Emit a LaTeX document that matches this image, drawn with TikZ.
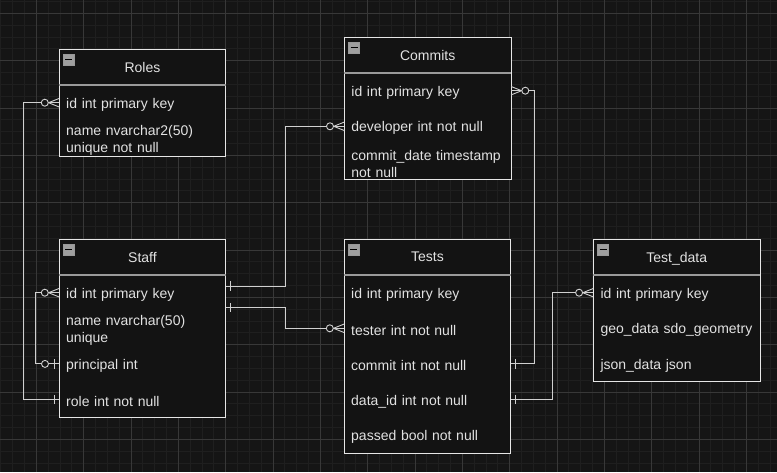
\documentclass[tikz,border=0pt]{standalone}
\usepackage{fontspec}
\setmainfont{Liberation Sans}

\definecolor{bgc}{HTML}{151515}
\definecolor{minorc}{HTML}{1F1F1F}
\definecolor{majorc}{HTML}{383838}
\definecolor{boxc}{HTML}{131313}
\definecolor{edgec}{HTML}{E6E6E6}
\definecolor{relc}{HTML}{D0D0D0}
\definecolor{txtc}{HTML}{E2E2E2}
\definecolor{divc}{HTML}{9A9A9A}

\tikzset{
 hdr/.style={anchor=west,minimum width=166.5pt,minimum height=35.6pt,inner sep=0pt,text depth=0pt,fill=boxc,text=txtc,font=\fontsize{14}{16.6}\selectfont},
 fld/.style={anchor=west,minimum height=35.6pt,text width=152.5pt,inner xsep=7pt,inner ysep=0pt,align=left,fill=boxc,text=txtc,font=\fontsize{14}{16.6}\selectfont,
  execute at begin node={\rule{0pt}{14pt}}},
 tbl/.style={draw=edgec,line width=0.9pt},
 divline/.style={draw=divc,line width=1.8pt},
 rel/.style={draw=relc,line width=0.9pt},
 btn/.style={draw=gray!80,fill=gray!75!white,minimum size=11pt,inner sep=0pt,
  path picture={\draw[black,line width=1.3pt] ([xshift=-3.5pt]path picture bounding box.center)--([xshift=3.5pt]path picture bounding box.center);}},
 zmany/.pic={\draw[rel] (-10.5,0)--(0,4.2) (-10.5,0)--(0,-4.2); \draw[rel,fill=bgc] (-14.2,0) circle (3.5);},
 zone/.pic={\draw[rel] (-5,4.7)--(-5,-4.7); \draw[rel,fill=bgc] (-14,0) circle (3.5);},
 one/.pic={\draw[rel] (-5,4.7)--(-5,-4.7);}
}

\begin{document}
\begin{tikzpicture}[x=1pt,y=-1pt]
 \useasboundingbox (0,0) rectangle (777,472);
 \fill[bgc] (0,0) rectangle (777,472); %背景
 \foreach \k in {0,...,65} \draw[minorc,line width=0.8pt] ({0.8+11.833*\k},0)--({0.8+11.833*\k},472);
 \foreach \k in {0,...,39} \draw[minorc,line width=0.8pt] (0,{1.47+11.833*\k})--(777,{1.47+11.833*\k});
 \foreach \k in {0,...,15} \draw[majorc,line width=0.8pt] ({36.3+47.33*\k},0)--({36.3+47.33*\k},472);
 \foreach \k in {0,...,9} \draw[majorc,line width=0.8pt] (0,{13.3+47.33*\k})--(777,{13.3+47.33*\k}); %グリッド

 % Roles
 \node[hdr] (roles) at (59,67.1) {Roles};
 \node[fld] (roles-id) at (59,102.7) {id int primary key};
 \node[fld] (roles-name) at (59,138.3) {name nvarchar2(50)\\unique not null};
 \draw[tbl] (roles.north west) rectangle (roles-name.south east);
 \draw[divline] (roles.south west)--(roles.south east);
 \node[btn] (roles-btn) at ([shift={(9.8,10.2)}]roles.north west) {};

 % Staff
 \node[hdr] (staff) at (59,257.1) {Staff};
 \node[fld] (staff-id) at (59,292.7) {id int primary key};
 \node[fld] (staff-name) at (59,328.3) {name nvarchar(50)\\unique};
 \node[fld] (staff-princ) at (59,363.9) {principal int};
 \node[fld] (staff-role) at (59,399.5) {role int not null};
 \draw[tbl] (staff.north west) rectangle (staff-role.south east);
 \draw[divline] (staff.south west)--(staff.south east);
 \node[btn] (staff-btn) at ([shift={(9.8,10.2)}]staff.north west) {};

 % Commits
 \node[hdr] (commits) at (344.2,55.1) {Commits};
 \node[fld] (commits-id) at (344.2,90.7) {id int primary key};
 \node[fld] (commits-dev) at (344.2,126.3) {developer int not null};
 \node[fld] (commits-date) at (344.2,161.9) {commit\_date timestamp\\not null};
 \draw[tbl] (commits.north west) rectangle (commits-date.south east);
 \draw[divline] (commits.south west)--(commits.south east);
 \node[btn] (commits-btn) at ([shift={(9.8,10.2)}]commits.north west) {};

 % Tests
 \node[hdr] (tests) at (344,257.1) {Tests};
 \node[fld] (tests-id) at (344,292.7) {id int primary key};
 \node[fld] (tests-tester) at (344,328.3) {tester int not null};
 \node[fld] (tests-commit) at (344,363.9) {commit int not null};
 \node[fld] (tests-data) at (344,399.5) {data\_id int not null};
 \node[fld] (tests-passed) at (344,435.1) {passed bool not null};
 \draw[tbl] (tests.north west) rectangle (tests-passed.south east);
 \draw[divline] (tests.south west)--(tests.south east);
 \node[btn] (tests-btn) at ([shift={(9.8,10.2)}]tests.north west) {};

 % Test_data
 \node[hdr] (tdata) at (593.3,257.1) {Test\_data};
 \node[fld] (tdata-id) at (593.3,292.7) {id int primary key};
 \node[fld] (tdata-geo) at (593.3,328.3) {geo\_data sdo\_geometry};
 \node[fld] (tdata-json) at (593.3,363.9) {json\_data json};
 \draw[tbl] (tdata.north west) rectangle (tdata-json.south east);
 \draw[divline] (tdata.south west)--(tdata.south east);
 \node[btn] (tdata-btn) at ([shift={(9.8,10.2)}]tdata.north west) {};

 % 関連
 \draw[rel] (staff-role.west)--++(-35.7,0) |- (roles-id.west);
 \draw[rel] (staff-princ.west)--++(-23.3,0) |- (staff-id.west);
 \draw[rel] ([yshift=6.7pt]staff-id.east)--++(59.5,0) |- (commits-dev.west);
 \draw[rel] ([yshift=-15pt]staff-id.east)--++(59.5,0) |- (tests-tester.west);
 \draw[rel] (tests-commit.east)--++(23.8,0) |- (commits-id.east);
 \draw[rel] (tests-data.east)--++(41.2,0) |- (tdata-id.west);

 \pic at (roles-id.west) {zmany};
 \pic at (staff-role.west) {one};
 \pic at (staff-id.west) {zmany};
 \pic at (staff-princ.west) {zone};
 \pic[rotate=180] at ([yshift=6.7pt]staff-id.east) {one};
 \pic[rotate=180] at ([yshift=-15pt]staff-id.east) {one};
 \pic at (commits-dev.west) {zmany};
 \pic at (tests-tester.west) {zmany};
 \pic[rotate=180] at (commits-id.east) {zmany};
 \pic[rotate=180] at (tests-commit.east) {one};
 \pic[rotate=180] at (tests-data.east) {one};
 \pic at (tdata-id.west) {zmany};
\end{tikzpicture}
\end{document}
